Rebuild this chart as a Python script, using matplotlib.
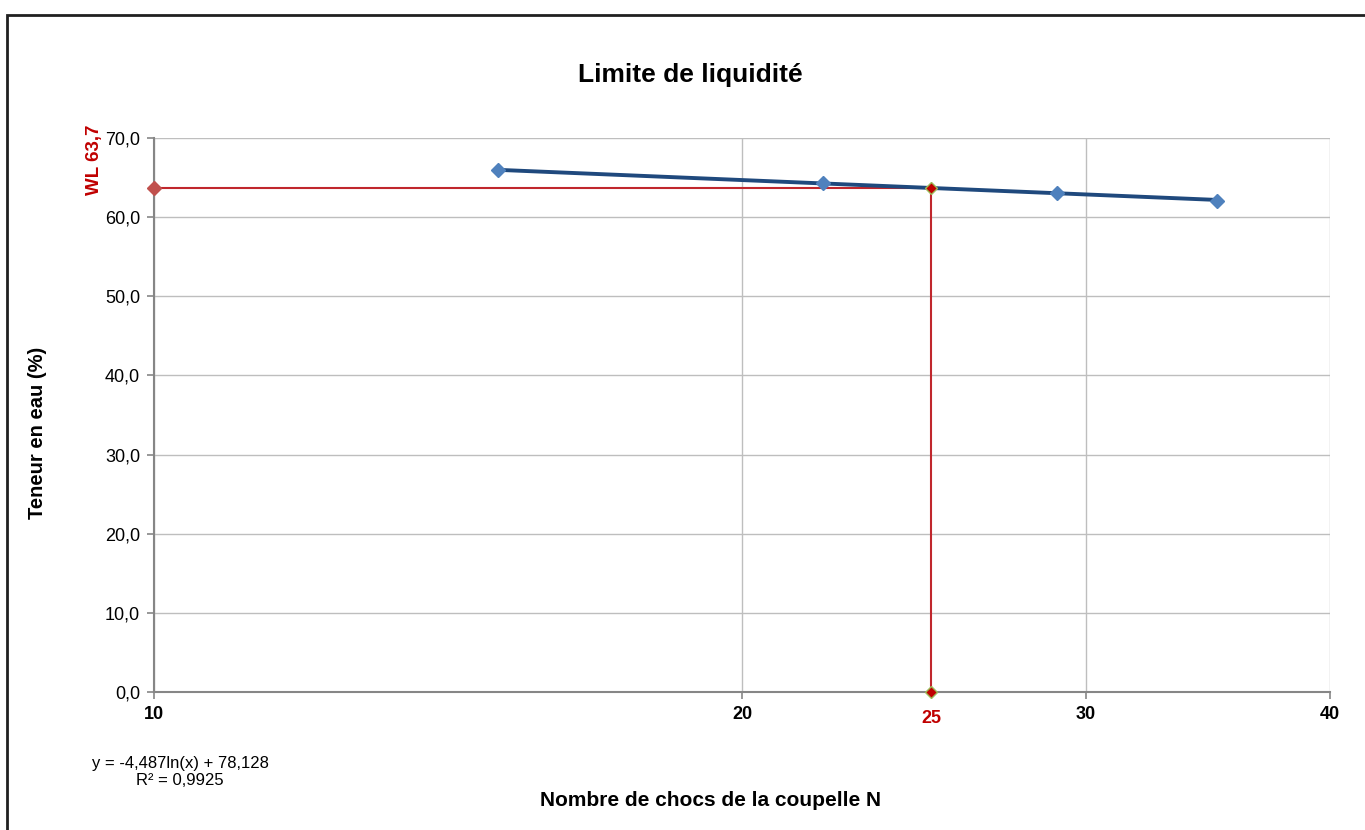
import numpy as np
import matplotlib.pyplot as plt
from matplotlib.patches import Rectangle
from matplotlib.ticker import FixedLocator, NullLocator

plt.rcParams['font.family'] = ['Liberation Sans', 'DejaVu Sans']

# data
chocs = [15, 22, 29, 35]
teneur = [66.0, 64.3, 63.1, 62.1]
a_coef = -4.487
b_coef = 78.128
n_ref = 25
wl = 63.7
x_ticks = [10, 20, 30, 40]
y_ticks = [0, 10, 20, 30, 40, 50, 60, 70]

fig = plt.figure(figsize=(13.65, 8.3), dpi=100)
fig.patches.append(Rectangle((7 / 1365, -0.1), 1.2, 1 - 15 / 830 + 0.1,
                             transform=fig.transFigure, fill=False,
                             edgecolor='#202020', linewidth=2))
ax = fig.add_axes([154 / 1365, 1 - 692 / 830, 1176 / 1365, 554 / 830])

ax.set_xscale('log')
ax.set_xlim(10, 40)
ax.set_ylim(0, 70)

# trend line over the data range
xt = np.linspace(min(chocs), max(chocs), 200)
ax.plot(xt, a_coef * np.log(xt) + b_coef, color='#1F497D', lw=2.8, zorder=4)
ax.plot(chocs, teneur, linestyle='none', marker='D', ms=7,
        color='#4F81BD', markeredgecolor='#4F81BD', zorder=5)

# liquid limit construction
red = '#C0272D'
ax.plot([10, n_ref], [wl, wl], color=red, lw=1.5, zorder=3, clip_on=False)
ax.plot([n_ref, n_ref], [wl, 0], color=red, lw=1.5, zorder=3, clip_on=False)
ax.plot([10], [wl], marker='D', ms=7, color='#C0504D', zorder=6, clip_on=False)
ax.plot([n_ref, n_ref], [wl, 0], linestyle='none', marker='D', ms=6,
        color='#C00000', markeredgecolor='#9BBB59', markeredgewidth=1,
        zorder=6, clip_on=False)

ax.xaxis.set_major_locator(FixedLocator(x_ticks))
ax.xaxis.set_minor_locator(NullLocator())
ax.set_xticklabels([str(v) for v in x_ticks], fontweight='bold', fontsize=13)
ax.set_yticks(y_ticks)
ax.set_yticklabels([f'{v:.1f}'.replace('.', ',') for v in y_ticks], fontsize=13)

ax.grid(True, color='#BEBEBE', lw=1)
ax.set_axisbelow(True)
for s in ['top', 'right']:
    ax.spines[s].set_visible(False)
for s in ['left', 'bottom']:
    ax.spines[s].set_color('#868686')
    ax.spines[s].set_linewidth(1.5)
ax.tick_params(axis='x', length=5, color='#868686', width=1.2, pad=5)
ax.tick_params(axis='y', length=5, color='#868686', width=1.2, pad=5)

ax.text(n_ref, -2.3, '25', color='#C00000', fontweight='bold', fontsize=13,
        ha='center', va='top')
fig.text(95 / 1365, 1 - 160 / 830, 'WL 63,7', rotation=90,
         color='#C00000', fontweight='bold', fontsize=13.5, ha='center', va='center')

fig.text(690 / 1365, 1 - 75 / 830, 'Limite de liquidité', fontsize=19,
         fontweight='bold', ha='center', va='center')
fig.text(38 / 1365, 1 - 433 / 830, 'Teneur en eau (%)', fontsize=14.5,
         fontweight='bold', rotation=90, ha='center', va='center')
fig.text(711 / 1365, 1 - 800 / 830, 'Nombre de chocs de la coupelle N',
         fontsize=15, fontweight='bold', ha='center', va='center')
fig.text(180 / 1365, 1 - 772 / 830, 'y = -4,487ln(x) + 78,128\nR² = 0,9925',
         fontsize=12, ha='center', va='center', linespacing=1.15)

fig.savefig('out.png', dpi=100)
